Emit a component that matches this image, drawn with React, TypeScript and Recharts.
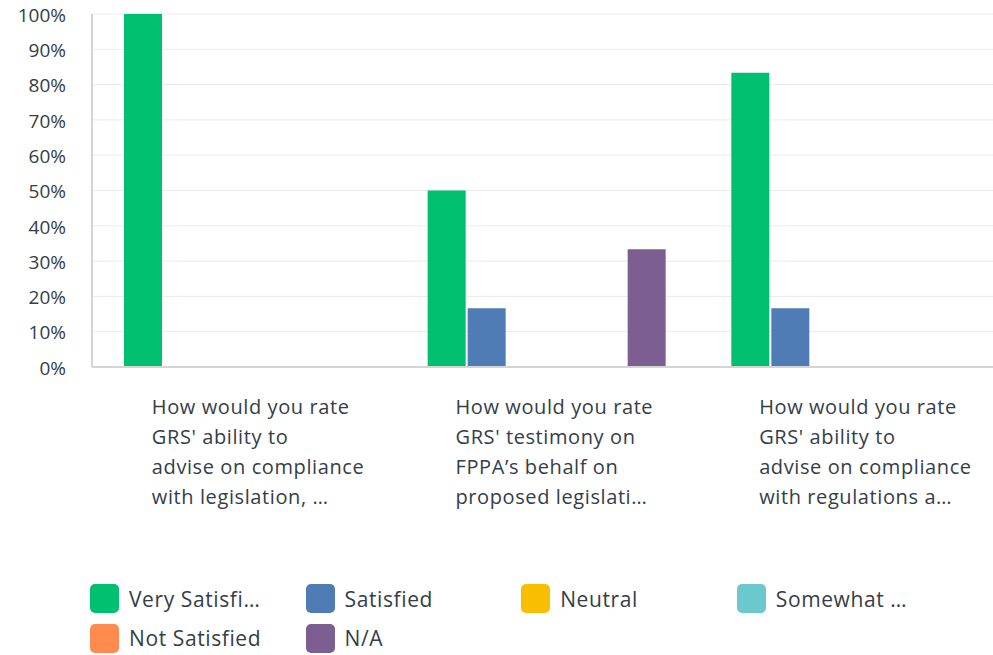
import React from 'react';
import { BarChart, Bar, XAxis, YAxis, CartesianGrid } from 'recharts';

const FONT = '"Open Sans", sans-serif';
const TEXT = '#333e48';

// question labels, already wrapped and cut the way the survey tool shows them
const categories = [
  ['How would you rate', "GRS' ability to", 'advise on compliance', 'with legislation, …'],
  ['How would you rate', "GRS' testimony on", 'FPPA’s behalf on', 'proposed legislati…'],
  ['How would you rate', "GRS' ability to", 'advise on compliance', 'with regulations a…'],
];

const verySatisfied = [100, 50, 83.33];
const satisfied = [0, 16.67, 16.67];
const neutral = [0, 0, 0];
const somewhat = [0, 0, 0];
const notSatisfied = [0, 0, 0];
const notApplicable = [0, 33.33, 0];

const yTicks = [0, 10, 20, 30, 40, 50, 60, 70, 80, 90, 100];

const series = [
  { key: 'vs', label: 'Very Satisfi…', color: '#00bf6f', values: verySatisfied },
  { key: 'sat', label: 'Satisfied', color: '#507cb6', values: satisfied },
  { key: 'neu', label: 'Neutral', color: '#f9be00', values: neutral },
  { key: 'sw', label: 'Somewhat …', color: '#6bc8cd', values: somewhat },
  { key: 'ns', label: 'Not Satisfied', color: '#ff8b4f', values: notSatisfied },
  { key: 'na', label: 'N/A', color: '#7d5e90', values: notApplicable },
];

const data = categories.map((lines, i) => {
  const row: any = { name: i, lines };
  series.forEach((s) => (row[s.key] = s.values[i]));
  return row;
});

const QuestionTick = (props: any) => {
  const { x, y, payload } = props;
  const lines = categories[payload.value] || [];
  return (
    <text
      x={x - 92}
      y={y + 45}
      fill={TEXT}
      fontSize={20}
      letterSpacing={0.6}
      fontFamily={FONT}
      textAnchor="start"
    >
      {lines.map((line: string, i: number) => (
        <tspan key={i} x={x - 92} dy={i === 0 ? 0 : 30}>
          {line}
        </tspan>
      ))}
    </text>
  );
};

export default function App() {
  return (
    <div
      style={{
        position: 'absolute',
        left: 0,
        top: 0,
        width: 993,
        height: 655,
        background: '#fff',
        overflow: 'hidden',
      }}
    >
      {/* plot runs a little past the right edge in the export, so draw it wider and clip */}
      <BarChart
        width={1003}
        height={560}
        data={data}
        margin={{ top: 14, right: 0, left: 0, bottom: 0 }}
        barCategoryGap={32}
        barGap={2}
      >
        <CartesianGrid vertical={false} stroke="#ebebeb" />
        <XAxis
          dataKey="name"
          height={193}
          tickLine={false}
          tickSize={0}
          axisLine={{ stroke: '#d4d4d4', strokeWidth: 2 }}
          tick={<QuestionTick />}
          interval={0}
        />
        <YAxis
          width={92}
          domain={[0, 100]}
          ticks={yTicks}
          tickFormatter={(v) => `${v}%`}
          tickLine={false}
          tickSize={0}
          tickMargin={26}
          axisLine={{ stroke: '#d4d4d4', strokeWidth: 2 }}
          tick={{ fill: TEXT, fontSize: 19, fontFamily: FONT, dy: 1 }}
        />
        {series.map((s) => (
          <Bar key={s.key} dataKey={s.key} fill={s.color} isAnimationActive={false} />
        ))}
      </BarChart>
      {/* legend, four per row like the survey export */}
      {series.map((s, i) => (
        <div
          key={s.key}
          style={{
            position: 'absolute',
            left: 90 + (i % 4) * 215.6,
            top: 584 + Math.floor(i / 4) * 39.5,
            display: 'flex',
            alignItems: 'center',
            fontFamily: FONT,
            fontSize: 21,
            letterSpacing: 0.6,
            color: TEXT,
            whiteSpace: 'nowrap',
          }}
        >
          <span
            style={{
              display: 'inline-block',
              width: 29,
              height: 29,
              borderRadius: 5,
              background: s.color,
              marginRight: 10,
            }}
          />
          {s.label}
        </div>
      ))}
    </div>
  );
}
